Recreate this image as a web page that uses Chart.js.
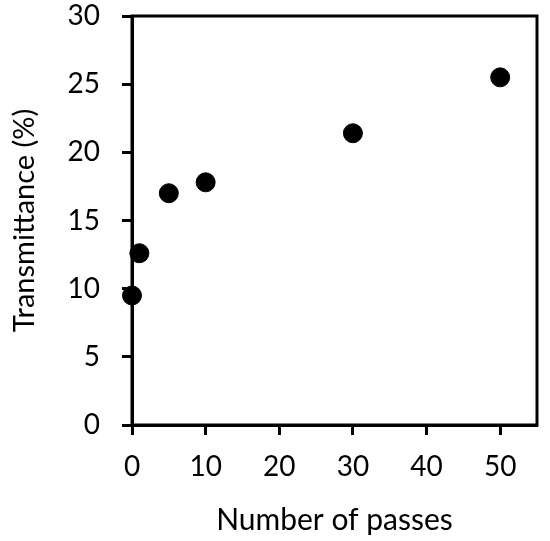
<!DOCTYPE html>
<html>
<head>
<meta charset="utf-8">
<script src="https://cdn.jsdelivr.net/npm/chart.js@4"></script>
<style>
html,body{margin:0;padding:0;background:#fff;}
#wrap{width:550px;height:541px;}
</style>
</head>
<body>
<div id="wrap"><canvas id="c" width="550" height="541"></canvas></div>
<script>
const passes = [0, 1, 5, 10, 30, 50];
const transmittance = [9.5, 12.6, 17.0, 17.8, 21.4, 25.5];
const xTicks = [0, 10, 20, 30, 40, 50];
const yTicks = [0, 5, 10, 15, 20, 25, 30];
const xTitle = 'Number of passes';
const yTitle = 'Transmittance (%)';

const FONT = 'Lato, "Open Sans", sans-serif';

const boxPlugin = {
  id: 'box',
  afterDatasetsDraw(chart) {
    const a = chart.chartArea, ctx = chart.ctx;
    ctx.save();
    ctx.strokeStyle = '#000';
    ctx.lineWidth = 3;
    ctx.strokeRect(a.left, a.top, a.right - a.left, a.bottom - a.top);
    ctx.restore();
  }
};

new Chart(document.getElementById('c'), {
  type: 'scatter',
  data: {
    datasets: [{
      data: passes.map((x, i) => ({x: x, y: transmittance[i]})),
      backgroundColor: '#000',
      borderColor: '#000',
      pointRadius: 9.5,
      pointHoverRadius: 9.5,
      clip: false
    }]
  },
  options: {
    responsive: false,
    animation: false,
    devicePixelRatio: 1,
    layout: {padding: {top: 16, right: 13, bottom: 3, left: 0}},
    plugins: {legend: {display: false}, tooltip: {enabled: false}},
    scales: {
      x: {
        type: 'linear', min: 0, max: 55,
        afterBuildTicks(s) { s.ticks = xTicks.map(v => ({value: v})); },
        afterFit(s) { s.height = 113; s.paddingLeft = 0; s.paddingRight = 0; },
        grid: {display: true, drawOnChartArea: false, drawTicks: true, tickLength: 10, tickWidth: 3, tickColor: '#000'},
        border: {display: true, color: '#000', width: 3},
        ticks: {color: '#000', font: {family: FONT, size: 28}, padding: 15, maxRotation: 0},
        title: {display: true, text: xTitle, color: '#000', font: {family: FONT, size: 30}, padding: {top: 10, bottom: 0}}
      },
      y: {
        type: 'linear', min: 0, max: 30,
        afterBuildTicks(s) { s.ticks = yTicks.map(v => ({value: v})); },
        afterFit(s) { s.width = 132; s.paddingTop = 0; s.paddingBottom = 0; },
        grid: {display: true, drawOnChartArea: false, drawTicks: true, tickLength: 10, tickWidth: 3, tickColor: '#000'},
        border: {display: true, color: '#000', width: 3},
        ticks: {color: '#000', font: {family: FONT, size: 28}, padding: 22},
        title: {display: true, text: yTitle, color: '#000', font: {family: FONT, size: 29}, padding: {top: 7, bottom: 0}}
      }
    }
  },
  plugins: [boxPlugin]
});
</script>
</body>
</html>
